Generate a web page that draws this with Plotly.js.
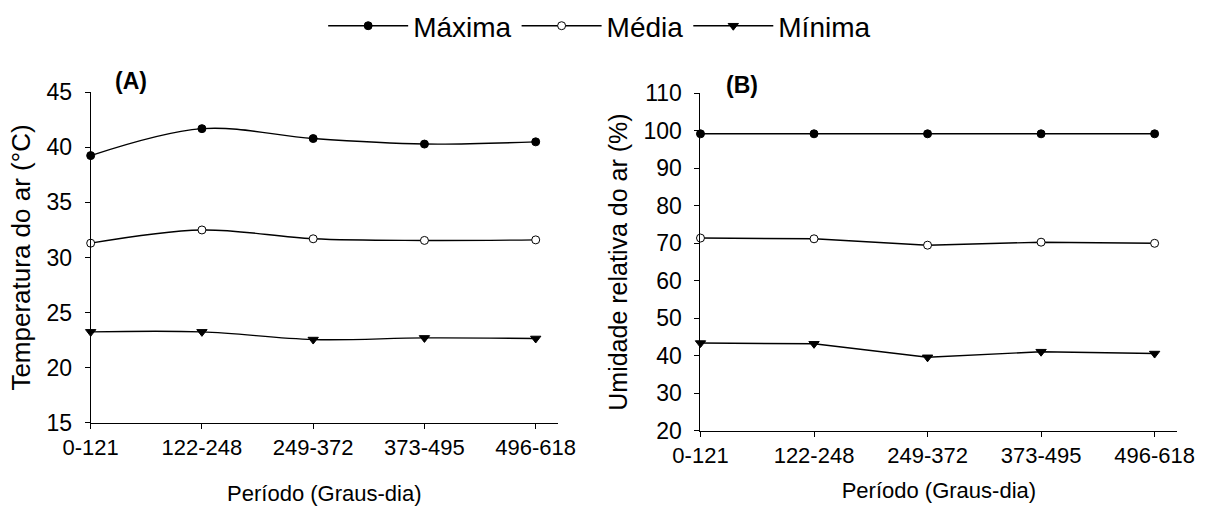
<!DOCTYPE html>
<html><head><meta charset="utf-8">
<script src="https://cdn.plot.ly/plotly-3.0.1.min.js"></script>
<style>body{margin:0;background:#fff}#c{width:1209px;height:506px}</style>
</head><body><div id="c"></div>
<script>
const categories = ["0-121","122-248","249-372","373-495","496-618"];
const tempMax = [39.25, 41.7, 40.8, 40.3, 40.5];
const tempMed = [31.3, 32.5, 31.7, 31.55, 31.6];
const tempMin = [23.25, 23.25, 22.55, 22.7, 22.65];
const urMax = [99.2, 99.2, 99.2, 99.2, 99.2];
const urMed = [71.4, 71.2, 69.5, 70.3, 70.0];
const urMin = [43.4, 43.2, 39.6, 41.1, 40.6];
const seriesNames = ["Máxima","Média","Mínima"];

const F = "Liberation Sans, Arial, sans-serif";
const mk = [
  {symbol:"circle", color:"#000", size:8, line:{color:"#000", width:1}},
  {symbol:"circle", color:"#fff", size:8, line:{color:"#000", width:1}},
  {symbol:"triangle-down", color:"#000", size:9, line:{color:"#000", width:1}}
];
function tr(y, i, xa, ya, shape, show){
  return {x: categories, y: y, xaxis: xa, yaxis: ya, type:"scatter", mode:"lines+markers",
    name: seriesNames[i], showlegend: show, cliponaxis:false,
    line:{color:"#000", width:1.4, shape: shape, smoothing: 1}, marker: mk[i]};
}
const data = [
  tr(tempMax,0,"x","y","spline",true), tr(tempMed,1,"x","y","spline",true), tr(tempMin,2,"x","y","spline",true),
  tr(urMax,0,"x2","y2","linear",false), tr(urMed,1,"x2","y2","linear",false), tr(urMin,2,"x2","y2","linear",false)
];
const ax = {type:"category", range:[0,4.2], showline:true, linecolor:"#000", linewidth:1, ticks:"outside",
  ticklen:5, tickcolor:"#000", showgrid:false, zeroline:false, automargin:false,
  tickfont:{family:F, size:22, color:"#000"}};
const ay = {showline:true, linecolor:"#000", linewidth:1, ticks:"outside", ticklen:5, tickcolor:"#000",
  showgrid:false, zeroline:false, automargin:false, ticklabelstandoff:8,
  tickfont:{family:F, size:23, color:"#000"}};
const layout = {
  width:1209, height:506, margin:{l:0,r:0,t:0,b:0}, paper_bgcolor:"#fff", plot_bgcolor:"#fff",
  font:{family:F, color:"#000"},
  showlegend:true,
  legend:{orientation:"h", x:0.496, xanchor:"center", y:0.998, yanchor:"top", font:{family:F, size:28, color:"#000"},
    itemwidth:80, tracegroupgap:0, bgcolor:"rgba(0,0,0,0)"},
  xaxis: Object.assign({}, ax, {domain:[0.0750,0.4615], anchor:"y",
    title:{text:"Período (Graus-dia)", font:{family:F,size:22,color:"#000"}, standoff:27}}),
  yaxis: Object.assign({}, ay, {domain:[0.1646,0.8176], anchor:"x", range:[15,45], dtick:5,
    title:{text:"Temperatura do ar (°C)", font:{family:F,size:26,color:"#000"}, standoff:8}}),
  xaxis2: Object.assign({}, ax, {domain:[0.5794,0.9738], anchor:"y2",
    title:{text:"Período (Graus-dia)", font:{family:F,size:22,color:"#000"}, standoff:15}}),
  yaxis2: Object.assign({}, ay, {domain:[0.1486,0.8156], anchor:"x2", range:[20,110], dtick:10,
    title:{text:"Umidade relativa do ar (%)", font:{family:F,size:25,color:"#000"}, standoff:8}}),
  annotations:[
    {text:"<b>(A)</b>", xref:"paper", yref:"paper", x:130.7/1209, y:1-80.7/506, xanchor:"center", yanchor:"middle",
      showarrow:false, font:{family:F,size:23,color:"#000"}},
    {text:"<b>(B)</b>", xref:"paper", yref:"paper", x:741.7/1209, y:1-85/506, xanchor:"center", yanchor:"middle",
      showarrow:false, font:{family:F,size:23,color:"#000"}}
  ]
};
Plotly.newPlot("c", data, layout, {displayModeBar:false, staticPlot:true});
</script></body></html>
